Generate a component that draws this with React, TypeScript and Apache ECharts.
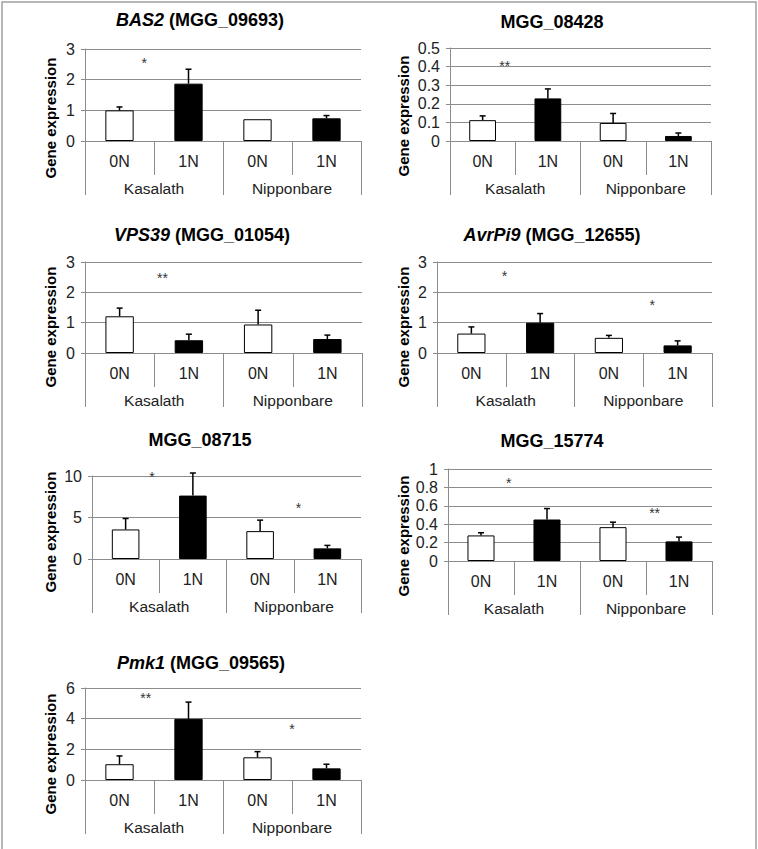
import React, { useEffect, useRef } from "react";
import * as echarts from "echarts";

const FONT = '"Liberation Sans", Arial, sans-serif';

const categories = ["0N", "1N", "0N", "1N"];
const cultivars = ["Kasalath", "Nipponbare"];
const yAxisName = "Gene expression";

// BAS2 (MGG_09693)
const bas2Mean = [1.0, 1.87, 0.71, 0.74];
const bas2Se = [0.11, 0.47, 0, 0.09];
const bas2Sig = [{ at: 0.36, y: 2.63, mark: "*" }];

// MGG_08428
const mgg08428Mean = [0.112, 0.229, 0.097, 0.027];
const mgg08428Se = [0.023, 0.051, 0.051, 0.016];
const mgg08428Sig = [{ at: 0.34, y: 0.422, mark: "**" }];

// VPS39 (MGG_01054)
const vps39Mean = [1.21, 0.42, 0.94, 0.46];
const vps39Se = [0.27, 0.2, 0.47, 0.13];
const vps39Sig = [{ at: 0.62, y: 2.56, mark: "**" }];

// AvrPi9 (MGG_12655)
const avrPi9Mean = [0.64, 1.0, 0.5, 0.25];
const avrPi9Se = [0.22, 0.3, 0.08, 0.15];
const avrPi9Sig = [
  { at: 0.48, y: 2.64, mark: "*" },
  { at: 2.63, y: 1.68, mark: "*" },
];

// MGG_08715
const mgg08715Mean = [3.56, 7.64, 3.36, 1.28];
const mgg08715Se = [1.32, 2.72, 1.32, 0.36];
const mgg08715Sig = [
  { at: 0.39, y: 10.25, mark: "*" },
  { at: 2.57, y: 6.56, mark: "*" },
];

// MGG_15774
const mgg15774Mean = [0.278, 0.451, 0.368, 0.213];
const mgg15774Se = [0.029, 0.119, 0.054, 0.047];
const mgg15774Sig = [
  { at: 0.42, y: 0.88, mark: "*" },
  { at: 2.63, y: 0.55, mark: "**" },
];

// Pmk1 (MGG_09565)
const pmk1Mean = [1.03, 3.99, 1.48, 0.76];
const pmk1Se = [0.54, 1.09, 0.37, 0.27];
const pmk1Sig = [
  { at: 0.38, y: 5.56, mark: "**" },
  { at: 2.5, y: 3.49, mark: "*" },
];

const panels = [
  { gene: "BAS2", id: "(MGG_09693)", mean: bas2Mean, se: bas2Se, sig: bas2Sig, max: 3, interval: 1,
    grid: { left: 85, top: 49, width: 276, height: 92 }, titleX: 200, titleY: 20, nameX: 50, nameY: 118 },
  { gene: "", id: "MGG_08428", mean: mgg08428Mean, se: mgg08428Se, sig: mgg08428Sig, max: 0.5, interval: 0.1,
    grid: { left: 450, top: 48, width: 261, height: 93 }, titleX: 552, titleY: 22, nameX: 403, nameY: 116 },
  { gene: "VPS39", id: "(MGG_01054)", mean: vps39Mean, se: vps39Se, sig: vps39Sig, max: 3, interval: 1,
    grid: { left: 85, top: 262, width: 277, height: 91 }, titleX: 202, titleY: 235, nameX: 50, nameY: 327 },
  { gene: "AvrPi9", id: "(MGG_12655)", mean: avrPi9Mean, se: avrPi9Se, sig: avrPi9Sig, max: 3, interval: 1,
    grid: { left: 437, top: 262, width: 275, height: 91 }, titleX: 552, titleY: 235, nameX: 403, nameY: 327 },
  { gene: "", id: "MGG_08715", mean: mgg08715Mean, se: mgg08715Se, sig: mgg08715Sig, max: 10, interval: 5,
    grid: { left: 92, top: 476, width: 269, height: 83 }, titleX: 200, titleY: 440, nameX: 50, nameY: 532 },
  { gene: "", id: "MGG_15774", mean: mgg15774Mean, se: mgg15774Se, sig: mgg15774Sig, max: 1, interval: 0.2,
    grid: { left: 448, top: 469, width: 264, height: 92 }, titleX: 552, titleY: 441, nameX: 403, nameY: 536 },
  { gene: "Pmk1", id: "(MGG_09565)", mean: pmk1Mean, se: pmk1Se, sig: pmk1Sig, max: 6, interval: 2,
    grid: { left: 85, top: 688, width: 276, height: 92 }, titleX: 201, titleY: 663, nameX: 50, nameY: 754 },
];

const LINE = "#8c8c8c";
const TEXT = "#222";

function buildOption() {
  const grid: any[] = [];
  const xAxis: any[] = [];
  const yAxis: any[] = [];
  const series: any[] = [];
  const title: any[] = [];
  const graphic: any[] = [
    {
      type: "rect",
      shape: { x: 2, y: 2, width: 754, height: 870 },
      style: { fill: "none", stroke: "#a0a0a0", lineWidth: 1.5 },
      silent: true,
    },
  ];

  panels.forEach((p, k) => {
    grid.push({ ...p.grid, containLabel: false });
    xAxis.push({
      type: "category",
      gridIndex: k,
      data: categories,
      position: "bottom",
      axisLine: { show: true, lineStyle: { color: LINE, width: 1 } },
      axisTick: { show: true, interval: 0, length: 34, alignWithLabel: false, lineStyle: { color: LINE } },
      axisLabel: { interval: 0, margin: 12, fontSize: 16, color: TEXT, fontFamily: FONT },
      splitLine: { show: false },
    });
    xAxis.push({
      type: "category",
      gridIndex: k,
      data: cultivars,
      position: "bottom",
      offset: 34,
      axisLine: { show: false },
      axisTick: { show: true, interval: 0, length: 20, alignWithLabel: false, lineStyle: { color: LINE } },
      axisLabel: { interval: 0, margin: 5, fontSize: 15.5, color: TEXT, fontFamily: FONT },
      splitLine: { show: false },
    });
    yAxis.push({
      type: "value",
      gridIndex: k,
      min: 0,
      max: p.max,
      interval: p.interval,
      axisLine: { show: true, lineStyle: { color: LINE, width: 1 } },
      axisTick: { show: true, length: 4, lineStyle: { color: LINE } },
      axisLabel: { margin: 10, fontSize: 16, color: TEXT, fontFamily: FONT },
      splitLine: { show: true, lineStyle: { color: LINE, width: 1 } },
    });

    series.push({
      type: "bar",
      xAxisIndex: 2 * k,
      yAxisIndex: k,
      barWidth: "41%",
      silent: true,
      data: p.mean.map((v, i) => ({
        value: v,
        itemStyle: { color: i % 2 ? "#000" : "#fff", borderColor: "#000", borderWidth: 1 },
      })),
    });

    series.push({
      type: "custom",
      xAxisIndex: 2 * k,
      yAxisIndex: k,
      silent: true,
      z: 5,
      encode: { x: 0, y: [1, 2] },
      data: p.mean.map((v, i) => [i, v, v + p.se[i]]),
      renderItem: (params: any, api: any) => {
        const idx = api.value(0);
        if (api.value(2) <= api.value(1)) return { type: "group", children: [] };
        const base = api.coord([idx, api.value(1)]);
        const top = api.coord([idx, api.value(2)]);
        return {
          type: "group",
          children: [
            { type: "line", shape: { x1: base[0], y1: base[1], x2: top[0], y2: top[1] }, style: { stroke: "#000", lineWidth: 1.5 } },
            { type: "line", shape: { x1: top[0] - 3, y1: top[1], x2: top[0] + 3, y2: top[1] }, style: { stroke: "#000", lineWidth: 1.5 } },
          ],
        };
      },
    });

    const sig = p.sig;
    series.push({
      type: "custom",
      xAxisIndex: 2 * k,
      yAxisIndex: k,
      silent: true,
      z: 6,
      encode: { x: 0, y: 1 },
      data: sig.map((s) => [Math.floor(s.at), s.y, s.at - Math.floor(s.at)]),
      renderItem: (params: any, api: any) => {
        const c = api.coord([api.value(0), api.value(1)]);
        const w = api.size([1, 0], [api.value(0), api.value(1)])[0];
        return {
          type: "text",
          x: c[0] + api.value(2) * w,
          y: c[1] + 3,
          style: {
            text: sig[params.dataIndex].mark,
            fill: "#333",
            font: `14px ${FONT}`,
            textAlign: "center",
            textVerticalAlign: "middle",
          },
        };
      },
    });

    const rich = {
      i: { fontStyle: "italic", fontWeight: "bold", fontSize: 18, fontFamily: FONT, color: "#000" },
      b: { fontWeight: "bold", fontSize: 18, fontFamily: FONT, color: "#000" },
    };
    title.push({
      text: p.gene ? `{i|${p.gene}}{b| ${p.id}}` : `{b|${p.id}}`,
      left: p.titleX,
      top: p.titleY,
      textAlign: "center",
      textVerticalAlign: "middle",
      padding: 0,
      textStyle: { fontSize: 18, fontWeight: "bold", color: "#000", fontFamily: FONT, rich },
    });

    graphic.push({
      type: "text",
      x: p.nameX,
      y: p.nameY,
      rotation: Math.PI / 2,
      silent: true,
      style: {
        text: yAxisName,
        font: `bold 15px ${FONT}`,
        fill: "#000",
        textAlign: "center",
        textVerticalAlign: "middle",
      },
    });
  });

  return {
    animation: false,
    backgroundColor: "#fff",
    textStyle: { fontFamily: FONT },
    title,
    grid,
    xAxis,
    yAxis,
    series,
    graphic,
  };
}

export default function App() {
  const ref = useRef<HTMLDivElement>(null);
  useEffect(() => {
    document.body.style.margin = "0";
    if (!ref.current) return;
    const chart = echarts.init(ref.current, null, { renderer: "svg" });
    chart.setOption(buildOption() as any);
    return () => chart.dispose();
  }, []);
  return (
    <div
      ref={ref}
      style={{ position: "fixed", left: 0, top: 0, width: 758, height: 849, background: "#fff" }}
    />
  );
}
